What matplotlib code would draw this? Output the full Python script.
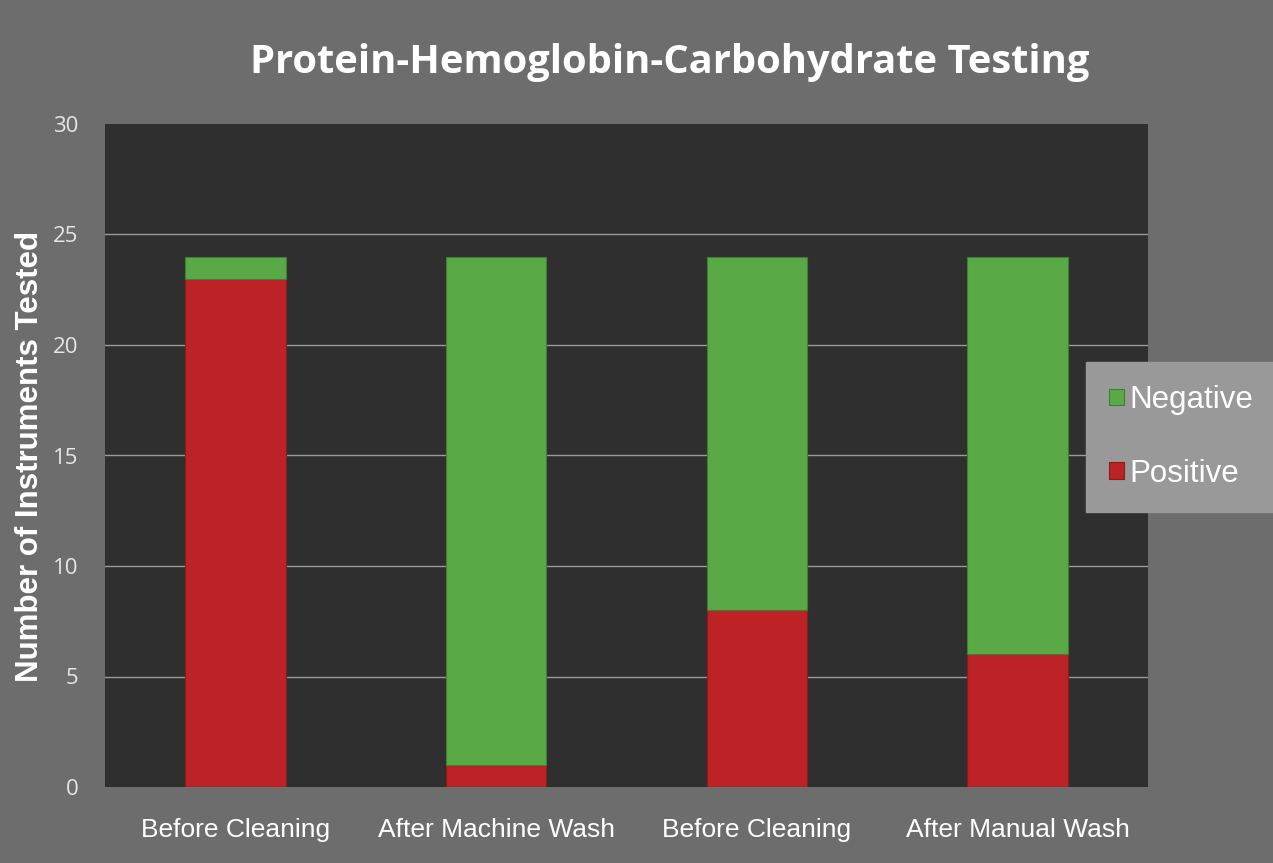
import matplotlib
matplotlib.use("Agg")
import matplotlib.pyplot as plt
import numpy as np

categories = ["Before Cleaning", "After Machine Wash", "Before Cleaning", "After Manual Wash"]
positive = [23, 1, 8, 6]
negative = [1, 23, 16, 18]
yticks = [0, 5, 10, 15, 20, 25, 30]

RED = "#bd2226"
GREEN = "#5aa947"

fig = plt.figure(figsize=(12.73, 8.63), dpi=100, facecolor="#6d6d6d")
ax = fig.add_axes([105 / 1273, 1 - 787 / 863, 1043 / 1273, 663 / 863])
ax.set_facecolor("#2f2f2f")

x = np.arange(len(categories))
w = 0.385
ax.bar(x, positive, w, color=RED, edgecolor="#8e1a1c", linewidth=0.8, label="Positive", zorder=3)
ax.bar(x, negative, w, bottom=positive, color=GREEN, edgecolor="#3f7f33", linewidth=0.8,
       label="Negative", zorder=3)

ax.set_xlim(-0.5, len(categories) - 0.5)
ax.set_ylim(0, 30)
ax.set_yticks(yticks)
ax.set_yticklabels([str(t) for t in yticks], color="#e6e6e6", fontsize=16, family="Open Sans")
ax.set_xticks(x)
ax.set_xticklabels(categories, color="white", fontsize=19, family="Liberation Sans")
ax.tick_params(axis="both", length=0)
ax.tick_params(axis="y", pad=19)
ax.tick_params(axis="x", pad=22)
# gridlines at 5..25 only, none on the top edge
for t in yticks[1:-1]:
    ax.axhline(t, color="#9a9a9a", linewidth=1, zorder=1)
for s in ax.spines.values():
    s.set_visible(False)

ax.set_ylabel("Number of Instruments Tested", color="white", fontsize=22.5,
              fontweight="bold", family="Liberation Sans")
ax.yaxis.set_label_coords(-0.0575, 0.498)

fig.text(670 / 1273, 1 - 62 / 863, "Protein-Hemoglobin-Carbohydrate Testing", color="white",
         fontsize=28.7, fontweight="bold", family="Open Sans", ha="center", va="center")

handles, labels = ax.get_legend_handles_labels()
leg = fig.legend(handles[::-1], labels[::-1], loc="center left",
                 bbox_to_anchor=(1086 / 1273, 1 - 437 / 863), frameon=True,
                 fancybox=False, facecolor="#999999", edgecolor="#999999", framealpha=1,
                 prop={"family": "Liberation Sans", "size": 22.5}, labelcolor="white",
                 handlelength=0.45, handleheight=0.45, handletextpad=0.2,
                 labelspacing=1.4, borderpad=0.75, borderaxespad=0)

fig.savefig("out.png", dpi=100, facecolor=fig.get_facecolor())
